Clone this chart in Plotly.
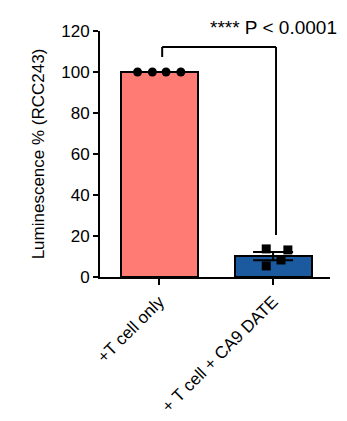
import numpy as np
import plotly.graph_objects as go

categories = ["+T cell only", "+ T cell + CA9 DATE"]
group1_values = [100, 100, 100, 100]
group2_values = [13.7, 5.4, 13.2, 8.3]
group1_jitter = [-0.19, -0.06, 0.06, 0.19]
group2_jitter = [-0.06, -0.06, 0.13, 0.07]
y_ticks = [0, 20, 40, 60, 80, 100, 120]
bar_colors = ["#FF7B74", "#1C5AA0"]
sig_label = "**** P < 0.0001"
bracket_top = 112.2
bracket_left_end = 107.3
bracket_right_end = 20.5

xpos = [0, 1]
means = [float(np.mean(group1_values)), float(np.mean(group2_values))]
sem2 = float(np.std(group2_values, ddof=1) / np.sqrt(len(group2_values)))

FONT = "Liberation Sans, Arial, Helvetica, sans-serif"
Y_MAX = 120

fig = go.Figure()
fig.add_trace(go.Bar(
    x=xpos, y=means, width=0.675,
    marker=dict(color=bar_colors, line=dict(color="black", width=2)),
    showlegend=False,
))
fig.add_trace(go.Scatter(
    x=[xpos[1]], y=[means[1]], mode="markers",
    marker=dict(size=1, color="rgba(0,0,0,0)"),
    error_y=dict(type="data", array=[sem2], color="black", thickness=2, width=20),
    showlegend=False,
))
fig.add_trace(go.Scatter(
    x=[xpos[0] + j for j in group1_jitter], y=group1_values, mode="markers",
    marker=dict(symbol="circle", size=9, color="black"),
    cliponaxis=False, showlegend=False,
))
fig.add_trace(go.Scatter(
    x=[xpos[1] + j for j in group2_jitter], y=group2_values, mode="markers",
    marker=dict(symbol="square", size=9, color="black"),
    cliponaxis=False, showlegend=False,
))

# significance bracket
fig.add_shape(type="line", x0=xpos[0] + 0.026, x1=xpos[0] + 0.026, y0=bracket_left_end, y1=bracket_top,
              line=dict(color="black", width=2))
fig.add_shape(type="line", x0=xpos[0] + 0.026, x1=xpos[1] + 0.026, y0=bracket_top, y1=bracket_top,
              line=dict(color="black", width=2))
fig.add_shape(type="line", x0=xpos[1] + 0.026, x1=xpos[1] + 0.026, y0=bracket_right_end, y1=bracket_top,
              line=dict(color="black", width=2))
fig.add_annotation(x=xpos[1], xref="x", y=121.5 / Y_MAX, yref="paper", text=sig_label, showarrow=False,
                   font=dict(family=FONT, size=19, color="black"),
                   xanchor="center", yanchor="middle")

fig.update_layout(
    width=347, height=421,
    margin=dict(l=100, r=17, t=31, b=144),
    paper_bgcolor="white", plot_bgcolor="white",
    font=dict(family=FONT, color="black"),
    bargap=0,
    xaxis=dict(
        range=[-0.52, 1.5], tickvals=xpos, ticktext=categories, tickangle=-45,
        showline=True, linecolor="black", linewidth=2,
        ticks="outside", ticklen=6, tickwidth=2, tickcolor="black",
        showgrid=False, zeroline=False, automargin=False,
        tickfont=dict(family=FONT, size=17, color="black"),
    ),
    yaxis=dict(
        range=[0, Y_MAX], tickvals=y_ticks,
        showline=True, linecolor="black", linewidth=2,
        ticks="outside", ticklen=5, tickwidth=2, tickcolor="black",
        showgrid=False, zeroline=False, automargin=False,
        tickfont=dict(family=FONT, size=17, color="black"),
        title=dict(text="Luminescence % (RCC243)", font=dict(family=FONT, size=17, color="black"), standoff=12),
    ),
)

fig.write_html("out.html")
